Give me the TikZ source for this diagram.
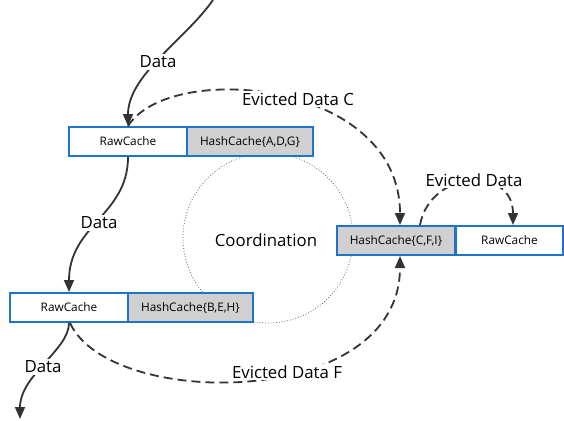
\documentclass[tikz,border=0pt]{standalone}
\usepackage{fontspec}
\setmainfont{Open Sans}
\usetikzlibrary{arrows.meta,calc}
\definecolor{boxblue}{RGB}{30,116,200}
\definecolor{hashgray}{RGB}{208,208,208}
\definecolor{linegray}{RGB}{51,51,51}
\tikzset{
  cachebox/.style={draw=boxblue, line width=2pt, minimum height=29pt, inner sep=0pt, font=\fontsize{11.8}{13}\selectfont},
  rawbox/.style={cachebox, fill=white},
  hashbox/.style={cachebox, fill=hashgray},
  flow/.style={draw=linegray, line width=1.8pt, -{Triangle[length=12pt,width=10pt]}},
  evict/.style={flow, dash pattern=on 9pt off 5pt},
  lbl/.style={fill=white, inner sep=1.5pt, font=\fontsize{16.8}{19}\selectfont, text=black},
  coord/.style={draw=black!60, line width=0.8pt, dotted}
}
\begin{document}
\begin{tikzpicture}[x=1pt,y=-1pt]
\useasboundingbox (0,0) rectangle (564,420);
% coordination circle
\node[coord, circle, minimum size=170pt, inner sep=0pt] (circ) at (268,238) {};
% cache boxes
\node[rawbox, minimum width=118pt] (r1) at (128,141.5) {RawCache};
\node[hashbox, minimum width=126pt] (h1) at (250,141.5) {HashCache\{A,D,G\}};
\node[hashbox, minimum width=118pt] (h2) at (396,240.5) {HashCache\{C,F,I\}};
\node[rawbox, minimum width=107pt] (r2) at (509.5,240.5) {RawCache};
\node[rawbox, minimum width=118pt] (r3) at (69,307.5) {RawCache};
\node[hashbox, minimum width=125pt] (h3) at (190.5,307.5) {HashCache\{B,E,H\}};
% free ends
\coordinate (src) at (213,0);
\coordinate (sink) at (20,419);
% connectors
\draw[flow] (src) .. controls (185,40) and (128,75) .. (r1.north);
\draw[evict] (r1.north) .. controls (170,60) and (400,80) .. ($(h2.north)+(4,0)$);
\draw[flow] (r1.south) .. controls (128,215) and (69,225) .. (r3.north);
\draw[flow] (r3.south) .. controls (69,350) and (20,375) .. (sink);
\draw[evict] ($(r3.south)+(1,0)$) .. controls (110,410) and (400,410) .. ($(h2.south)+(4,0)$);
\draw[evict] ($(h2.north)+(24,0)$) .. controls (430,170) and (513,165) .. ($(r2.north)+(3.5,0)$);
% labels
\node[lbl] (l1) at (158,62) {Data};
\node[lbl] (l2) at (298,99) {Evicted Data C};
\node[lbl] (l3) at (99,223) {Data};
\node[lbl] (l4) at (43,367) {Data};
\node[lbl] (l5) at (287,372) {Evicted Data F};
\node[lbl] (l6) at (474,180) {Evicted Data};
\node[lbl, inner sep=4pt] (l7) at (266,240) {Coordination};
\end{tikzpicture}
\end{document}
